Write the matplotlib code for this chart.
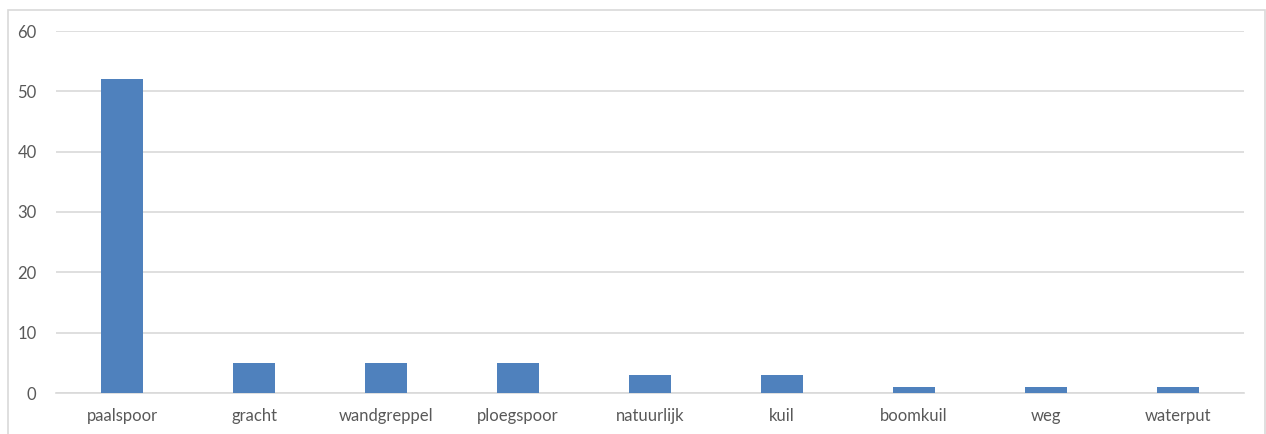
import numpy as np
import matplotlib.pyplot as plt
from matplotlib.patches import Rectangle

categories = ['paalspoor', 'gracht', 'wandgreppel', 'ploegspoor', 'natuurlijk',
              'kuil', 'boomkuil', 'weg', 'waterput']
values = [52, 5, 5, 5, 3, 3, 1, 1, 1]
yticks = [0, 10, 20, 30, 40, 50, 60]

W, H = 1266, 434
plt.rcParams['font.family'] = ['Lato', 'DejaVu Sans']
fig = plt.figure(figsize=(W/100, H/100), dpi=100)
fig.patches.append(Rectangle((8/W, -0.1), 1257/W, 1.1 - 10/H, transform=fig.transFigure,
                             fill=False, edgecolor='#d9d9d9', lw=1.2))
ax = fig.add_axes([56/W, (H-393)/H, 1188/W, 362/H])

x = np.arange(len(categories))
ax.bar(x, values, width=0.32, color='#4f81bd', zorder=3)
ax.set_xlim(-0.5, len(categories)-0.5)
ax.set_ylim(0, 60)
ax.set_yticks(yticks)
ax.set_xticks(x)
ax.set_xticklabels(categories)
ax.grid(axis='y', color='#d9d9d9', lw=1.2, zorder=0)
for s in ['top', 'right', 'left']:
    ax.spines[s].set_visible(False)
ax.spines['bottom'].set_color('#d9d9d9')
ax.spines['bottom'].set_linewidth(1.2)
ax.tick_params(length=0, labelsize=12, labelcolor='#595959')
ax.tick_params(axis='y', pad=14)
ax.tick_params(axis='x', pad=11)

fig.savefig('out.png', dpi=100)
